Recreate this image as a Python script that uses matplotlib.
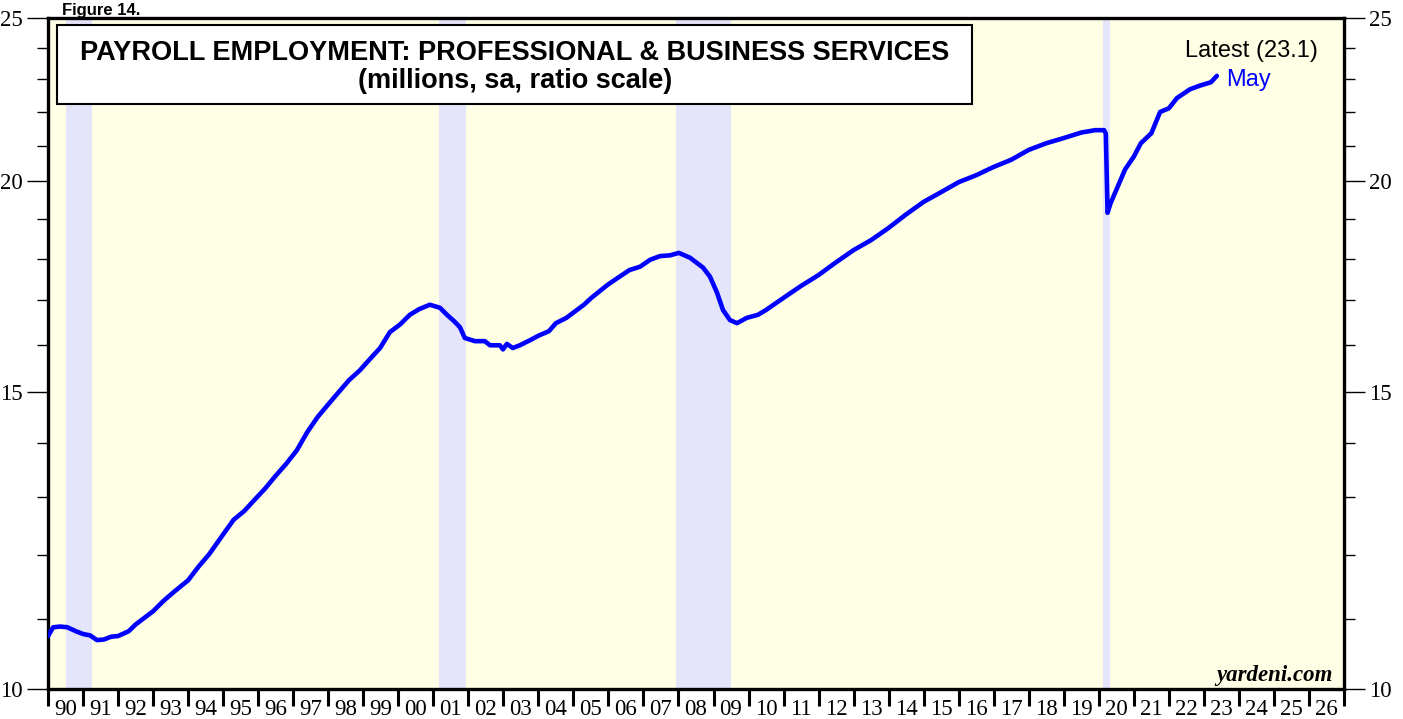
import matplotlib

matplotlib.use("Agg")
import matplotlib.pyplot as plt
from matplotlib.ticker import FixedLocator, NullFormatter, FixedFormatter
from matplotlib.patches import Rectangle

# --- data (millions, sa) ---
years = [
    1990.0, 1990.15, 1990.35, 1990.55, 1990.8, 1991.0, 1991.2, 1991.4, 1991.6, 1991.8,
    1992.0, 1992.3, 1992.5, 1992.7, 1993.0, 1993.3, 1993.6, 1994.0, 1994.3, 1994.6,
    1995.0, 1995.3, 1995.6, 1995.9, 1996.2, 1996.5, 1996.8, 1997.1, 1997.4, 1997.7,
    1998.0, 1998.3, 1998.6, 1998.9, 1999.2, 1999.48, 1999.76, 2000.05, 2000.33, 2000.6,
    2000.9, 2001.19, 2001.39, 2001.6, 2001.76, 2001.9, 2002.19, 2002.47, 2002.62, 2002.9,
    2002.99, 2003.1, 2003.27, 2003.47, 2003.76, 2004.0, 2004.3, 2004.5, 2004.8, 2005.0,
    2005.3, 2005.5, 2005.8, 2006.0, 2006.3, 2006.6, 2006.9, 2007.19, 2007.47, 2007.76,
    2008.01, 2008.33, 2008.7, 2008.9, 2009.1, 2009.27, 2009.47, 2009.67, 2009.95, 2010.27,
    2010.5, 2011.0, 2011.5, 2012.0, 2012.5, 2013.0, 2013.5, 2014.0, 2014.5, 2015.0,
    2015.5, 2016.0, 2016.5, 2017.0, 2017.5, 2018.0, 2018.5, 2019.0, 2019.5, 2019.9,
    2020.15, 2020.2, 2020.25, 2020.33, 2020.5, 2020.75, 2021.0, 2021.2, 2021.5, 2021.75,
    2022.0, 2022.23, 2022.6, 2022.9, 2023.2, 2023.37,
]
employment = [
    10.75, 10.88, 10.89, 10.88, 10.82, 10.78, 10.76, 10.69, 10.70, 10.74,
    10.75, 10.82, 10.92, 11.00, 11.12, 11.28, 11.42, 11.60, 11.82, 12.02,
    12.35, 12.60, 12.75, 12.95, 13.15, 13.38, 13.60, 13.85, 14.20, 14.50,
    14.75, 15.00, 15.25, 15.45, 15.70, 15.93, 16.28, 16.45, 16.67, 16.80,
    16.90, 16.83, 16.67, 16.52, 16.39, 16.15, 16.08, 16.08, 15.99, 15.99,
    15.90, 16.02, 15.93, 15.99, 16.10, 16.20, 16.30, 16.48, 16.60, 16.72,
    16.90, 17.05, 17.25, 17.38, 17.55, 17.72, 17.80, 17.97, 18.06, 18.08,
    18.14, 18.02, 17.78, 17.56, 17.18, 16.78, 16.55, 16.48, 16.60, 16.67,
    16.78, 17.06, 17.34, 17.60, 17.91, 18.21, 18.46, 18.77, 19.12, 19.45,
    19.71, 19.98, 20.17, 20.40, 20.60, 20.88, 21.07, 21.22, 21.38, 21.45,
    21.45, 21.35, 19.16, 19.40, 19.77, 20.33, 20.69, 21.07, 21.36, 21.99,
    22.10, 22.41, 22.68, 22.80, 22.90, 23.10,
]
recession_start = [1990.5, 2001.17, 2007.92, 2020.12]
recession_end = [1991.25, 2001.92, 2009.5, 2020.31]

year_ticks = list(range(1990, 2028))
year_labels = [f"{y % 100:02d}" for y in range(1990, 2027)]
y_major = [10, 15, 20, 25]
y_minor = [v for v in range(11, 25) if v not in (15, 20)]

fig = plt.figure(figsize=(14.03, 7.19), dpi=100)
ax = fig.add_axes([48 / 1403, 30 / 719, 1296 / 1403, 671 / 719])
ax.set_facecolor("#FFFFE6")

for s, e in zip(recession_start, recession_end):
    ax.axvspan(s, e, color="#E4E4FA", lw=0, zorder=1)

ax.plot(years, employment, color="#0000FF", lw=3.3, zorder=3,
        solid_capstyle="round", solid_joinstyle="round")

ax.set_yscale("log")
ax.set_ylim(10, 25)
ax.set_xlim(1990, 2027)

ax.yaxis.set_major_locator(FixedLocator(y_major))
ax.yaxis.set_major_formatter(FixedFormatter([str(v) for v in y_major]))
ax.yaxis.set_minor_locator(FixedLocator(y_minor))
ax.yaxis.set_minor_formatter(NullFormatter())
ax.tick_params(axis="y", which="major", direction="out", length=15, width=1.0,
               right=True, labelright=True, labelsize=16.5, pad=3)
ax.tick_params(axis="y", which="minor", direction="out", length=8, width=1.0, right=True)

ax.xaxis.set_major_locator(FixedLocator(year_ticks))
ax.xaxis.set_major_formatter(NullFormatter())
ax.xaxis.set_minor_locator(FixedLocator([y + 0.5 for y in range(1990, 2027)]))
ax.xaxis.set_minor_formatter(FixedFormatter(year_labels))
ax.tick_params(axis="x", which="major", direction="out", length=12, width=2.2)
ax.tick_params(axis="x", which="minor", length=0, labelsize=16.5, pad=7)

for lbl in ax.get_xticklabels(minor=True) + ax.get_yticklabels():
    lbl.set_fontfamily("Liberation Serif")

for sp in ax.spines.values():
    sp.set_linewidth(2.4)

# title box
box = Rectangle((57 / 1403, 1 - 104 / 719), 915 / 1403, 79 / 719,
                transform=fig.transFigure, facecolor="white", edgecolor="black",
                lw=1.5, zorder=5)
fig.patches.append(box)
fig.text(515 / 1403, 1 - 53 / 719, "PAYROLL EMPLOYMENT: PROFESSIONAL & BUSINESS SERVICES",
         ha="center", va="center", fontsize=19.5, fontweight="bold",
         family="Liberation Sans", zorder=6)
fig.text(515 / 1403, 1 - 81 / 719, "(millions, sa, ratio scale)",
         ha="center", va="center", fontsize=19.5, fontweight="bold",
         family="Liberation Sans", zorder=6)

fig.text(62 / 1403, 1 - 15 / 719, "Figure 14.", ha="left", va="baseline",
         fontsize=12, fontweight="bold", family="Liberation Sans")

fig.text(1318 / 1403, 1 - 51 / 719, "Latest (23.1)", ha="right", va="center",
         fontsize=17, family="Liberation Sans")
fig.text(1226 / 1403, 1 - 80 / 719, "May", ha="left", va="center",
         fontsize=17, color="#0000FF", family="Liberation Sans")
fig.text(1333 / 1403, 1 - 675 / 719, "yardeni.com", ha="right", va="center",
         fontsize=16.5, fontweight="bold", style="italic", family="Liberation Serif")

fig.savefig("out.png", dpi=100)
